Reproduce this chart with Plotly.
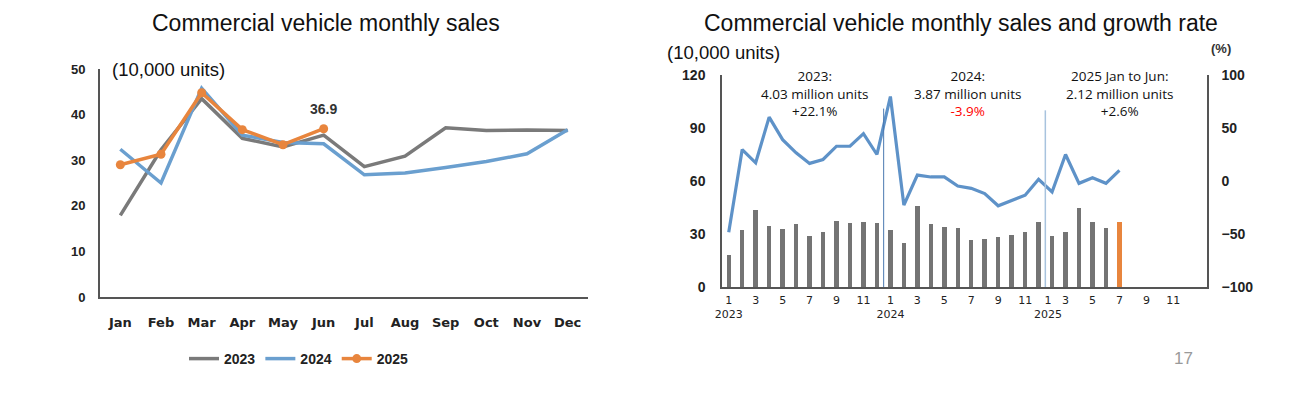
import plotly.graph_objects as go

# ---------------- data ----------------
months = ["Jan", "Feb", "Mar", "Apr", "May", "Jun", "Jul", "Aug", "Sep", "Oct", "Nov", "Dec"]
sales_2023 = [17.9, 32.3, 43.5, 34.8, 32.9, 35.5, 28.6, 30.9, 37.1, 36.5, 36.6, 36.5]
sales_2024 = [32.4, 25.0, 45.8, 35.5, 33.9, 33.6, 26.8, 27.2, 28.4, 29.7, 31.4, 36.7]
sales_2025 = [29.0, 31.3, 44.8, 36.7, 33.4, 36.9]
growth_2023 = [-48.4, 29.7, 17.2, 60.3, 39.0, 26.6, 16.6, 20.3, 32.8, 32.8, 44.7, 25.0]
growth_2024 = [79.7, -22.8, 5.6, 3.8, 3.8, -4.7, -6.9, -11.9, -23.4, -18.1, -13.4, 1.6]
growth_2025 = [-10.3, 25.0, -2.2, 3.1, -2.2, 10.0]
month_tick_labels = ["1", "3", "5", "7", "9", "11"]
years = ["2023", "2024", "2025"]
summary_2023 = ["2023:", "4.03 million units", "+22.1%"]
summary_2024 = ["2024:", "3.87 million units", "-3.9%"]
summary_2025 = ["2025 Jan to Jun:", "2.12 million units", "+2.6%"]

# ---------------- styles ----------------
GRAY = "#7a7a7a"
BLUE = "#6a9fcf"
ORANGE = "#e8853d"
LINE_BLUE = "#5e92c8"
BAR_GRAY = "#747474"
AXIS = "#555555"
W, H = 1290, 398
OFF = 8  # default page body margin
FW, FH = W - OFF, H - OFF


def px_x(x):
    return (x - OFF) / FW


def px_y(y):
    return 1 - (y - OFF) / FH


fig = go.Figure()

# ---------------- left chart ----------------
fig.add_trace(go.Scatter(x=months, y=sales_2023, mode="lines", name="2023",
                         line=dict(color=GRAY, width=3.5), xaxis="x", yaxis="y"))
fig.add_trace(go.Scatter(x=months, y=sales_2024, mode="lines", name="2024",
                         line=dict(color=BLUE, width=3.5), xaxis="x", yaxis="y"))
fig.add_trace(go.Scatter(x=months[:len(sales_2025)], y=sales_2025, mode="lines+markers", name="2025",
                         line=dict(color=ORANGE, width=3.5), marker=dict(color=ORANGE, size=9),
                         xaxis="x", yaxis="y"))

# ---------------- right chart ----------------
all_sales = sales_2023 + sales_2024 + sales_2025
all_growth = growth_2023 + growth_2024 + growth_2025
idx = list(range(len(all_sales)))
bar_colors = [BAR_GRAY] * (len(all_sales) - 1) + [ORANGE]
fig.add_trace(go.Bar(x=idx, y=all_sales, marker=dict(color=bar_colors, line=dict(width=0)),
                     width=0.33, showlegend=False, xaxis="x2", yaxis="y2"))
fig.add_trace(go.Scatter(x=idx, y=all_growth, mode="lines", line=dict(color=LINE_BLUE, width=3.2),
                         showlegend=False, xaxis="x2", yaxis="y3"))

n23, n24 = len(sales_2023), len(sales_2024)
tickvals = []
ticktext = []
for yi, start in enumerate([0, n23, n23 + n24]):
    for k, lab in enumerate(month_tick_labels):
        if yi < 2:
            pos = start + 2 * k
        else:
            pos = start - 0.3 if k == 0 else start + 2 * k - 1
        tickvals.append(pos)
        ticktext.append(lab + ("<br>" + years[yi] if k == 0 else ""))

# divider lines between years
fig.add_shape(type="line", xref="x2", yref="y2", x0=n23 - 0.5, x1=n23 - 0.5, y0=0, y1=101,
              line=dict(color="#4a78b0", width=1))
fig.add_shape(type="line", xref="x2", yref="y2", x0=n23 + n24 - 0.5, x1=n23 + n24 - 0.5, y0=0, y1=100,
              line=dict(color="#a8c3de", width=1.5))

fig.update_layout(
    width=FW, height=FH,
    margin=dict(l=0, r=0, t=0, b=0, pad=0, autoexpand=False),
    paper_bgcolor="white", plot_bgcolor="white",
    font=dict(family="Liberation Sans, Arial, sans-serif", color="#111111"),
    bargap=0,
    showlegend=True,
    legend=dict(orientation="h", x=px_x(184), y=px_y(359), xanchor="left", yanchor="middle",
                font=dict(size=14, color="#222222", family="Liberation Sans, Arial, sans-serif", weight="bold"),
                bgcolor="rgba(0,0,0,0)"),
    xaxis=dict(domain=[px_x(100), px_x(588)], type="category", range=[-0.5, 11.5],
               showline=True, linecolor=AXIS, linewidth=2, showgrid=False, zeroline=False,
               ticks="", ticklabelstandoff=12, automargin=False,
               tickfont=dict(size=13, family="DejaVu Sans, sans-serif", color="#222222", weight="bold"),
               anchor="y", fixedrange=True),
    yaxis=dict(domain=[px_y(297), px_y(69)], range=[0, 50], dtick=10,
               showline=True, linecolor=AXIS, linewidth=2, showgrid=False, zeroline=False,
               ticks="", ticklabelstandoff=10, automargin=False,
               tickfont=dict(size=13, family="Liberation Sans, Arial, sans-serif", color="#222222", weight="bold"),
               anchor="x"),
    xaxis2=dict(domain=[px_x(722), px_x(1207)], range=[-0.5, 35.5],
                tickvals=tickvals, ticktext=ticktext, tickangle=0,
                showline=True, linecolor=AXIS, linewidth=1.5, showgrid=False, zeroline=False,
                ticks="", ticklabelstandoff=2, automargin=False,
                tickfont=dict(size=11, family="DejaVu Sans, sans-serif", color="#222222"),
                anchor="y2"),
    yaxis2=dict(domain=[px_y(287), px_y(75)], range=[0, 120], dtick=30,
                showline=True, linecolor=AXIS, linewidth=1.5, showgrid=False, zeroline=False,
                ticks="", ticklabelstandoff=12, automargin=False,
                tickfont=dict(size=14, family="Liberation Sans, Arial, sans-serif", color="#222222", weight="bold"),
                anchor="x2"),
    yaxis3=dict(overlaying="y2", side="right", range=[-100, 100], dtick=50,
                showline=True, linecolor=AXIS, linewidth=1.5, showgrid=False, zeroline=False,
                ticks="", ticklabelstandoff=10, automargin=False,
                tickfont=dict(size=14, family="Liberation Sans, Arial, sans-serif", color="#222222", weight="bold"),
                anchor="x2"),
)

ann = []
# titles
ann.append(dict(text="Commercial vehicle monthly sales", x=px_x(326), y=px_y(23),
                font=dict(size=23, color="#111111")))
ann.append(dict(text="Commercial vehicle monthly sales and growth rate", x=px_x(961), y=px_y(23),
                font=dict(size=23, color="#111111")))
# unit labels
ann.append(dict(text="(10,000 units)", x=px_x(110), y=px_y(70), xanchor="left",
                font=dict(size=18.5, color="#111111")))
ann.append(dict(text="(10,000 units)", x=px_x(665), y=px_y(52), xanchor="left",
                font=dict(size=18.5, color="#111111")))
ann.append(dict(text="(%)", x=px_x(1221), y=px_y(49),
                font=dict(size=13, color="#333333", weight="bold")))
# value label
ann.append(dict(text=f"{sales_2025[-1]}", x=months[len(sales_2025) - 1], y=sales_2025[-1],
                xref="x", yref="y", yshift=20, showarrow=False,
                font=dict(size=14, color="#333333", weight="bold")))
# summary blocks
for block, cx in [(summary_2023, 6.4), (summary_2024, 17.7), (summary_2025, 29.0)]:
    parts = []
    for txt in block:
        if txt.startswith("-"):
            parts.append(f"<span style='color:#ff0000'>{txt}</span>")
        else:
            parts.append(txt)
    ann.append(dict(text="<br>".join(parts), x=cx, xref="x2", y=px_y(93), yref="paper",
                    font=dict(size=13.5, color="#111111", family="Open Sans, sans-serif")))
# page number
ann.append(dict(text="17", x=px_x(1183), y=px_y(358), font=dict(size=17, color="#9a9a9a")))

for a in ann:
    a.setdefault("xref", "paper")
    a.setdefault("yref", "paper")
    a.setdefault("showarrow", False)
    a.setdefault("xanchor", "center")
    a.setdefault("yanchor", "middle")
    fig.add_annotation(**a)

fig.write_html("out.html")
